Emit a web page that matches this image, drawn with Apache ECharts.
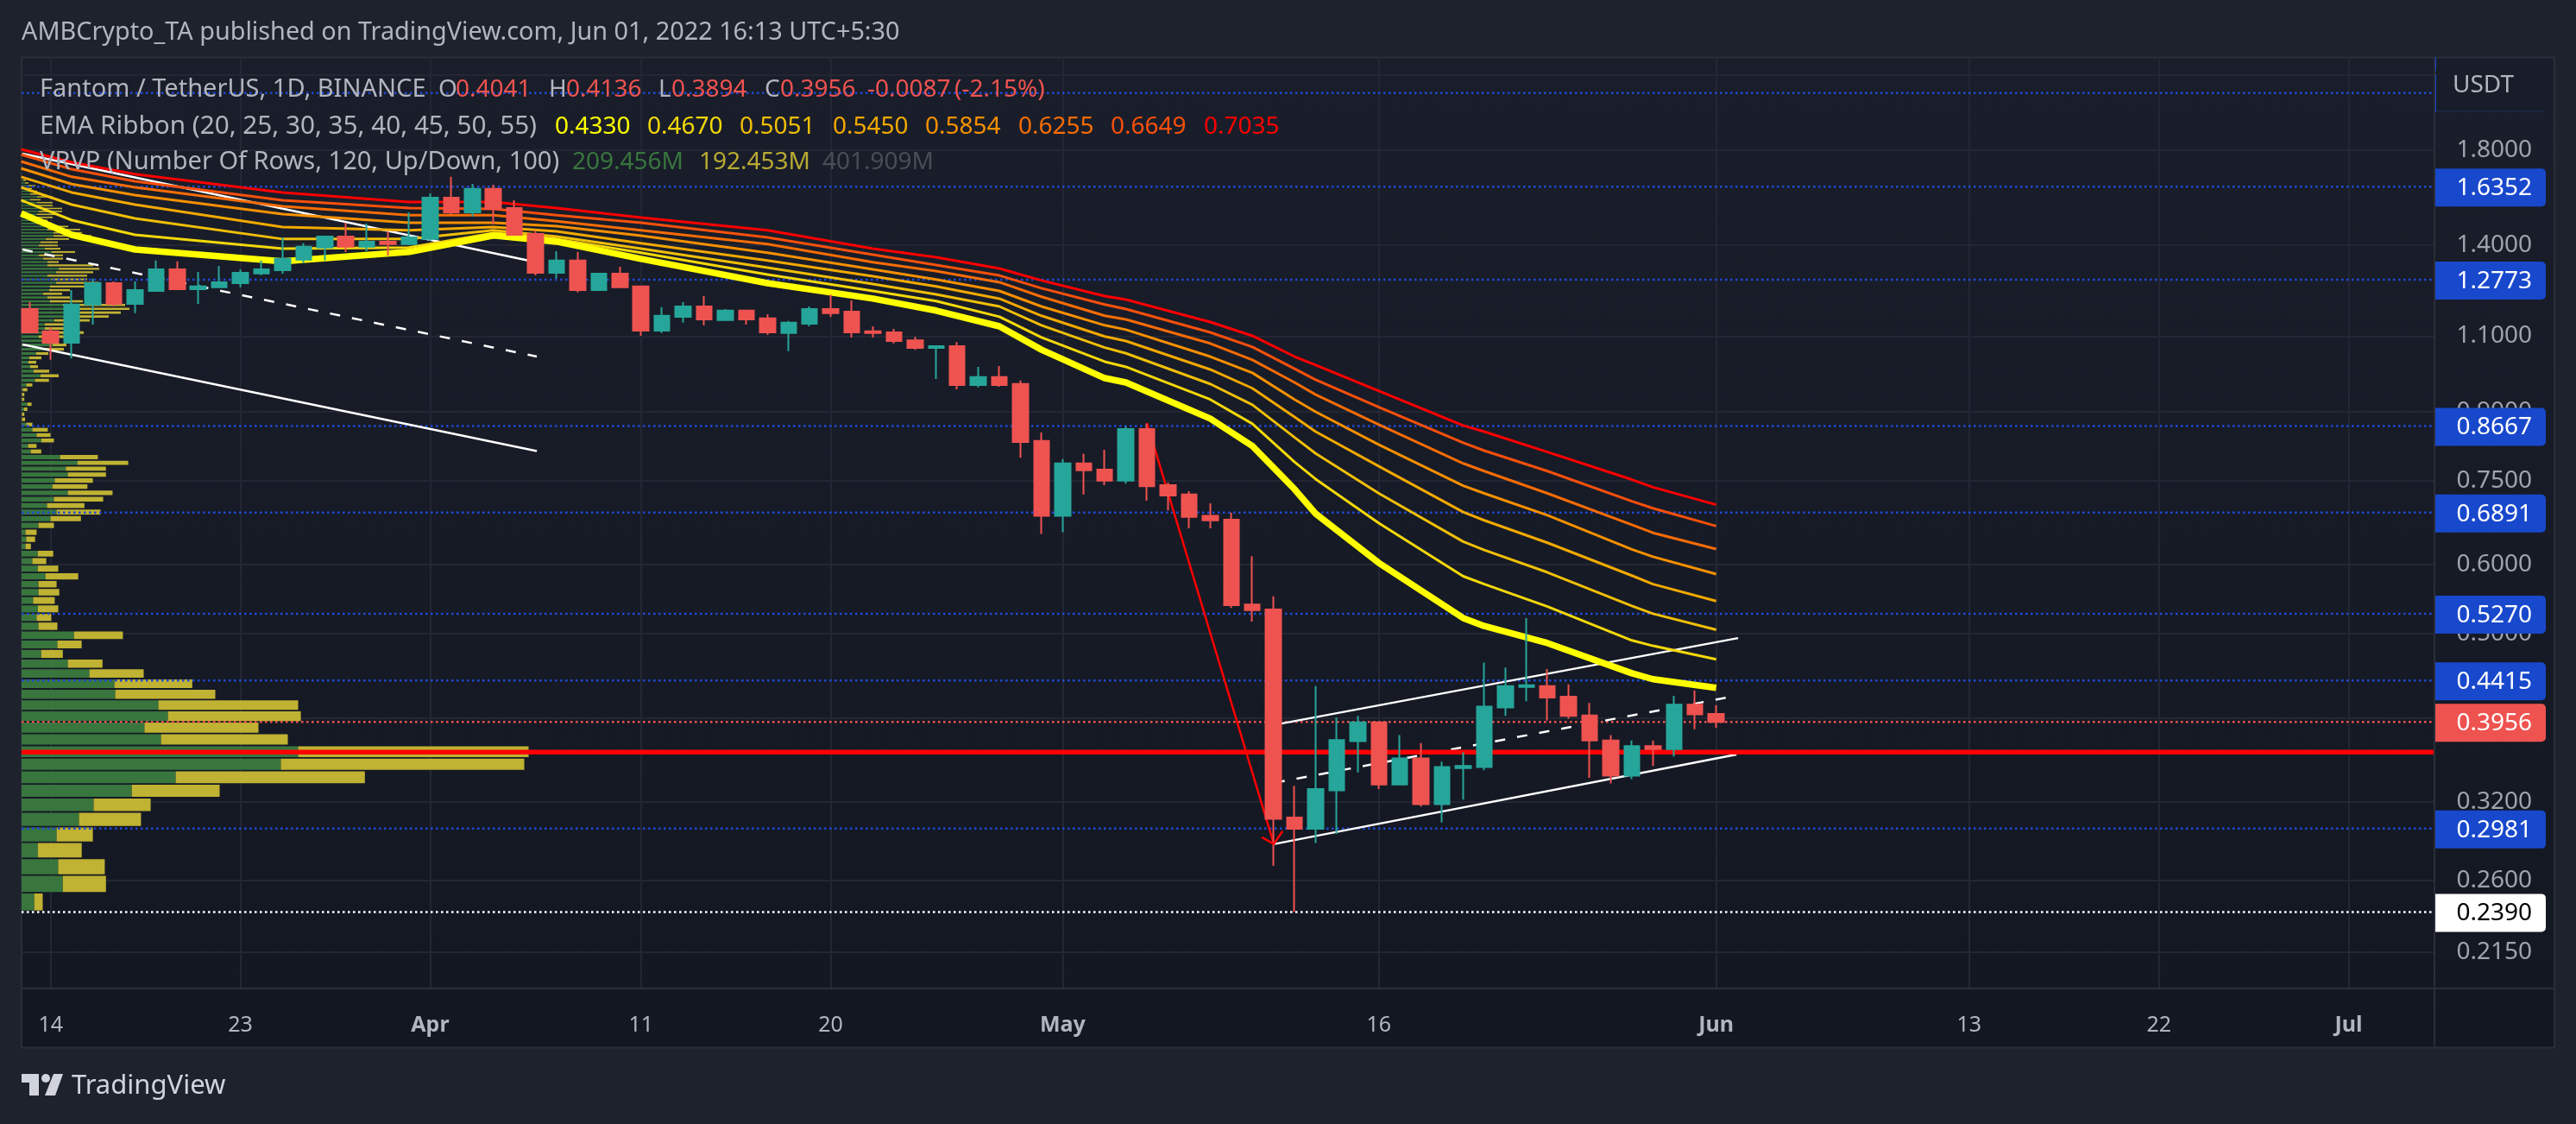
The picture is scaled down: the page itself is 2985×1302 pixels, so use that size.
<!DOCTYPE html>
<html lang="en">
<head>
<meta charset="UTF-8">
<title>Fantom / TetherUS, 1D</title>
<script src="https://cdn.jsdelivr.net/npm/echarts@6/dist/echarts.min.js"></script>
<style>
  html, body { margin: 0; padding: 0; background: #1e222d; }
  #main { width: 2985px; height: 1302px; }
</style>
</head>
<body>
<div id="main"></div>
<script>
// days are counted from 14 Mar 2022
const firstDay = -1;
const opens = [1.182,1.114,1.081,1.196,1.266,1.198,1.240,1.313,1.246,1.252,1.266,1.299,1.310,1.347,1.391,1.432,1.394,1.413,1.404,1.423,1.588,1.527,1.625,1.545,1.442,1.301,1.344,1.243,1.298,1.255,1.116,1.158,1.190,1.148,1.177,1.153,1.109,1.137,1.182,1.174,1.114,1.111,1.088,1.066,1.071,.966,.987,.969,.833,.683,.785,.772,.750,.860,.741,.723,.683,.676,.540,.533,.307,.298,.330,.376,.395,.335,.359,.318,.350,.351,.411,.434,.435,.423,.4025,.3765,.343,.371,.368,.414,.4041];
const closes = [1.111,1.081,1.196,1.266,1.198,1.243,1.313,1.246,1.255,1.269,1.301,1.313,1.350,1.394,1.432,1.394,1.413,1.404,1.429,1.588,1.527,1.625,1.541,1.439,1.301,1.344,1.243,1.298,1.252,1.116,1.161,1.190,1.150,1.177,1.150,1.111,1.140,1.182,1.169,1.111,1.109,1.086,1.066,1.071,.966,.987,.966,.831,.683,.785,.771,.750,.860,.739,.721,.681,.675,.539,.532,.306,.298,.331,.377,.395,.335,.359,.318,.351,.352,.412,.435,.436,.422,.402,.3765,.343,.371,.368,.414,.4035,.3956];
const highs = [1.204,1.125,1.243,1.281,1.272,1.272,1.344,1.341,1.304,1.325,1.313,1.344,1.429,1.407,1.432,1.486,1.482,1.452,1.527,1.606,1.678,1.647,1.643,1.577,1.456,1.378,1.375,1.301,1.322,1.258,1.188,1.204,1.223,1.182,1.179,1.166,1.145,1.190,1.228,1.209,1.129,1.121,1.098,1.071,1.083,1.014,1.016,.978,.852,.794,.805,.814,.866,.872,.746,.729,.706,.689,.614,.552,.334,.435,.400,.402,.395,.382,.374,.356,.365,.463,.457,.521,.455,.437,.416,.382,.3765,.3765,.424,.430,.4136];
const lows = [1.111,1.033,1.037,1.134,1.190,1.169,1.240,1.243,1.198,1.250,1.252,1.293,1.298,1.335,1.344,1.375,1.378,1.362,1.400,1.416,1.520,1.510,1.479,1.436,1.292,1.281,1.235,1.240,1.249,1.101,1.109,1.140,1.132,1.148,1.134,1.104,1.057,1.129,1.158,1.096,1.096,1.079,1.061,.982,.955,.960,.962,.797,.651,.654,.723,.741,.744,.711,.693,.661,.661,.535,.516,.270,.239,.287,.294,.346,.331,.335,.316,.303,.322,.348,.402,.418,.397,.399,.341,.336,.340,.352,.361,.388,.3894];

// EMA ribbon, read at these days
const emaDays = [-1.4,1,4,11,17,21,24,28,34,39,42,45,47,50,51,55,57,59,60,63,67,68,71,75,76,79];
const ema20 = [1.523,1.439,1.384,1.341,1.375,1.436,1.413,1.350,1.266,1.215,1.177,1.129,1.061,.984,.973,.884,.822,.733,.687,.603,.521,.510,.4875,.450,.443,.4330];
const ema25 = [1.577,1.496,1.439,1.387,1.391,1.446,1.423,1.372,1.295,1.240,1.207,1.158,1.096,1.028,1.014,.930,.872,.788,.753,.670,.582,.570,.537,.491,.484,.4670];
const ema30 = [1.632,1.559,1.503,1.423,1.423,1.456,1.432,1.387,1.319,1.263,1.229,1.190,1.132,1.067,1.051,.969,.917,.841,.806,.725,.638,.624,.588,.538,.527,.5051];
const ema35 = [1.678,1.610,1.559,1.469,1.456,1.469,1.452,1.407,1.344,1.289,1.255,1.215,1.161,1.099,1.086,1.007,.958,.888,.854,.779,.690,.675,.636,.583,.570,.5450];
const ema40 = [1.716,1.646,1.599,1.520,1.486,1.486,1.472,1.436,1.372,1.313,1.278,1.240,1.190,1.132,1.119,1.042,.998,.930,.900,.825,.740,.725,.684,.625,.613,.5854];
const ema45 = [1.748,1.678,1.632,1.552,1.516,1.516,1.492,1.456,1.404,1.338,1.307,1.269,1.221,1.161,1.150,1.079,1.033,.973,.942,.870,.785,.769,.725,.667,.653,.6255];
const ema50 = [1.780,1.712,1.658,1.577,1.545,1.541,1.516,1.486,1.429,1.365,1.328,1.292,1.249,1.196,1.182,1.111,1.069,1.009,.980,.911,.829,.812,.769,.710,.697,.6649];
const ema55 = [1.805,1.744,1.690,1.610,1.570,1.570,1.545,1.506,1.456,1.387,1.356,1.316,1.275,1.223,1.212,1.142,1.101,1.042,1.019,.951,.868,.854,.809,.752,.737,.7035];
const emaLines = [ema55, ema50, ema45, ema40, ema35, ema30, ema25, ema20];
const emaColors = ['#ff0000','#f8500c','#f76c06','#f79000','#f2a900','#f0bf08','#f4d80a','#ffff00'];

// VRVP rows, equal price height, from the bottom up (relative volume)
const rowLow = 0.239, rowStep = 0.01199;
const volUp = [14.7,47.8,42.4,18.8,40.6,66.5,83.5,127.7,178.6,300.4,320.5,161.6,142.4,169.6,158.5,108.5,107.6,78.6,53.6,22.8,41.5,60.7,19.6,17.4,18.8,13.4,19.6,19.6,27.7,18.8,12.5,18.8,4.5,5.4,4.5,19.6,33.5,40.6,29.5,37.5,53.6,35.7,38.4,53.6,51.3,64.7,44.6,10.7,7.6,22.8,17.4,12.5,5.4,.5,.5,2.7,6.7,.5,.5,1.3,5.4,15.6,22,14,10,8,9,17,28,36,25,20,32,27,27,38,49,58,65,48,33,30,25,32,33,40,35,30,40,43,30,30,25,20,35,27,20,22,28,37,37,30,30,18,17,18,18,20,23,18,18,10,18,10,8,7,8,4,2,2];
const volDown = [9.8,50,54,50.9,42,71.9,66.1,101.8,219.2,282.1,267,146.9,132.1,154,162,116,90.2,62.9,40.2,25,28.1,56.7,21.9,17,23.7,25,24.1,21,37.9,23.7,16.1,17.9,6.3,10.3,12.9,17.9,35.3,50.9,43.3,57.1,51.8,40.6,44.2,44.2,46.4,58.9,43.8,12.1,9.8,14.7,16.1,17.9,7.1,3.6,2.7,4,4.9,2.7,2.7,5.4,7.1,16.1,21,18,9,9,14,14,21,16,17,29,40,22,22,41,52,57,60,72,38,26,22,24,46,50,41,46,43,47,53,13,23,28,27,18,22,20,27,44,33,38,24,16,13,18,25,27,24,18,18,12,18,10,10,5,8,4,3,2];

// drawings, [day, price]
const wedgeTop = [[-1.34,1.784],[22.65,1.344]];
const wedgeMid = [[-1.34,1.384],[23.06,1.042]];
const wedgeLow = [[-1.34,1.076],[23.06,.811]];
const channelTop = [[58.05,.3925],[80.04,.494]];
const channelMid = [[58.05,.3366],[79.55,.4221]];
const channelLow = [[58.05,.2862],[79.96,.3628]];
const arrowLine = [[52,.874],[58.02,.2862]];
const arrowHead = [[57.44,.2914],[58.02,.2862],[58.43,.2961]];
const supportLevel = 0.3651;

const blueLevels = [2.096,1.6352,1.2773,.8667,.6891,.5270,.4415,.2981];
const lastPrice = 0.3956, lowPrice = 0.2390;
const blueTags = [1.6352,1.2773,.8667,.6891,.5270,.4415,.2981];

// axis ticks
const dayMin = -1.38, dayMax = 113.07;
const priceTicks = [1.8,1.4,1.1,.9,.75,.6,.5,.4,.32,.26,.215];
const priceGrid = [2.2,1.8,1.4,1.1,.9,.75,.6,.5,.4,.32,.26,.215];
const dayTicks = [0,9,18,28,37,48,63,79,91,100,109];
const dayLabels = ['14','23','{b|Apr}','11','20','{b|May}','16','{b|Jun}','13','22','{b|Jul}'];

const font = 'Noto Sans';
const grey = '#b2b5be';
const gridColor = '#242733';

const candles = opens.map((o, i) => [firstDay + i, o, closes[i], lows[i], highs[i]]);
const rows = volUp.map((u, i) => [u + volDown[i], rowLow + rowStep * i, rowLow + rowStep * (i + 1), u, volDown[i]]);

function renderRow(params, api) {
  const low = api.coord([0, api.value(1)]);
  const top = api.coord([0, api.value(2)]);
  const up = api.coord([api.value(3), 0.3]);
  const all = api.coord([api.value(0), 0.3]);
  const h = Math.max(1.5, low[1] - top[1] - 1.8);
  return { type: 'group', children: [
    { type: 'rect', shape: { x: low[0], y: top[1], width: up[0] - low[0], height: h }, style: { fill: '#38763e' } },
    { type: 'rect', shape: { x: up[0], y: top[1], width: all[0] - up[0], height: h }, style: { fill: '#c0b232' } }
  ] };
}

function renderTag(params, api) {
  const y = api.coord([0, api.value(0)])[1];
  const left = params.coordSys.x + params.coordSys.width;
  const fill = api.value(1) === 0 ? '#1848cc' : api.value(1) === 1 ? '#ef5350' : '#ffffff';
  return { type: 'group', children: [
    { type: 'rect', shape: { x: left - 1, y: y - 21, width: 130, height: 44, r: [0, 5, 5, 0] }, style: { fill: fill } },
    { type: 'text', x: left + 113, y: y + 2, style: {
      text: api.value(0).toFixed(4), fill: api.value(1) === 2 ? '#000000' : '#ffffff',
      font: '28px "' + font + '"', align: 'right', verticalAlign: 'middle' } }
  ] };
}

const tags = blueTags.map(v => [v, 0]).concat([[lastPrice, 1], [lowPrice, 2]]);

function line(points, color, width, type, z) {
  return { type: 'line', data: points, showSymbol: false, silent: true, animation: false, z: z,
    xAxisIndex: 0, yAxisIndex: 0, lineStyle: { color: color, width: width, type: type || 'solid' } };
}
// markLine lands off the value on a log axis, so levels are plain two point lines
function level(value, color, width, type, z) {
  return line([[dayMin, value], [dayMax, value]], color, width, type, z);
}
function text(x, y, str, color, size, weight) {
  return { type: 'text', z: 100, x: x, y: y, silent: true, style: {
    text: str, fill: color, font: (weight || 'normal') + ' ' + (size || 28) + 'px "' + font + '"',
    align: 'left', verticalAlign: 'middle' } };
}

const series = [
  { type: 'custom', renderItem: renderRow, data: rows, xAxisIndex: 1, yAxisIndex: 0, z: 1, silent: true, animation: false,
    encode: { x: 0, y: 1 } }
];
blueLevels.forEach(v => series.push(level(v, '#1f49d8', 2.5, [2.5, 3.5], 2)));
series.push(
  level(lastPrice, '#ef5350', 2.5, [2.5, 3.5], 2),
  level(lowPrice, '#ffffff', 2.5, [2.5, 3.5], 2),
  line(wedgeTop, '#ffffff', 2.5, null, 3),
  line(wedgeMid, '#ffffff', 2.5, [12, 14], 3),
  line(wedgeLow, '#ffffff', 2.5, null, 3),
  line(channelTop, '#ffffff', 2.5, null, 3),
  line(channelMid, '#ffffff', 2.5, [12, 14], 3),
  line(channelLow, '#ffffff', 2.5, null, 3),
  level(supportLevel, '#ff0000', 5.5, 'solid', 4),
  line(arrowLine, '#ff0000', 2.5, null, 4),
  line(arrowHead, '#ff0000', 2.5, null, 7)
);
emaLines.forEach((vals, i) => {
  series.push(line(vals.map((v, k) => [emaDays[k], v]), emaColors[i], i === 7 ? 7.5 : 3, null, 5));
});
series.push({ type: 'candlestick', data: candles, xAxisIndex: 0, yAxisIndex: 0, z: 6, silent: true, animation: false,
  barWidth: 18, encode: { x: 0, y: [1, 2, 3, 4] },
  itemStyle: { color: '#26a69a', color0: '#ef5350', borderColor: '#26a69a', borderColor0: '#ef5350', borderWidth: 2 } });
series.push({ type: 'custom', renderItem: renderTag, data: tags, xAxisIndex: 0, yAxisIndex: 0, z: 20,
  silent: true, animation: false, encode: { y: 0 }, clip: false });

const paneGradient = new echarts.graphic.LinearGradient(0, 0, 0, 1, [
  { offset: 0, color: '#1a1e2a' }, { offset: 1, color: '#131722' }]);

const option = {
  animation: false,
  backgroundColor: '#1e222d',
  grid: { left: 25, top: 66.5, right: 164, bottom: 157.6, containLabel: false },
  xAxis: [
    { type: 'value', min: dayMin, max: dayMax, position: 'bottom', axisLine: { show: false }, axisTick: { show: false, customValues: dayTicks },
      splitLine: { show: true, lineStyle: { color: gridColor, width: 2 } },
      axisLabel: { customValues: dayTicks, margin: 31, color: grey, fontFamily: font, fontSize: 25,
        formatter: v => dayLabels[dayTicks.indexOf(v)] || '',
        rich: { b: { fontFamily: font, fontSize: 25, fontWeight: 'bold', color: grey } } } },
    { type: 'value', min: 0, max: 2796, show: false, splitLine: { show: false } }
  ],
  yAxis: { type: 'log', min: 0.1954, max: 2.303, position: 'right', axisLine: { show: false },
    axisTick: { show: false, customValues: priceGrid },
    splitLine: { show: true, lineStyle: { color: gridColor, width: 2 } },
    axisLabel: { customValues: priceTicks, align: 'right', margin: 113, color: '#a0a3ad', fontFamily: font, fontSize: 28,
      formatter: v => v.toFixed(4) } },
  graphic: [
    { type: 'rect', z: -10, shape: { x: 25, y: 66.5, width: 2935, height: 1147 }, style: { fill: paneGradient, stroke: '#2a2e39', lineWidth: 2 } },
    { type: 'rect', z: 30, silent: true, shape: { x: 2820, y: 66.5, width: 3, height: 16 }, style: { fill: '#1848cc' } },
    { type: 'rect', z: 30, silent: true, shape: { x: 2820, y: 86, width: 3, height: 44 }, style: { fill: '#1848cc' } },
    { type: 'rect', z: 30, silent: true, shape: { x: 2823, y: 68, width: 135, height: 60 }, style: { fill: '#191d29' } },
    { type: 'rect', z: 30, silent: true, shape: { x: 2823, y: 128, width: 125, height: 1.5 }, style: { fill: '#1c2846' } },
    { type: 'rect', z: 30, silent: true, shape: { x: 24, y: 1144, width: 2936, height: 2 }, style: { fill: '#2a2e39' } },
    { type: 'rect', z: 30, silent: true, shape: { x: 2820, y: 67, width: 2, height: 1146 }, style: { fill: '#2a2e39' } },
    text(2842, 99, 'USDT', grey),
    text(25, 38, 'AMBCrypto_TA published on TradingView.com, Jun 01, 2022 16:13 UTC+5:30', '#b2b5be', 28.8),
    text(46, 104, 'Fantom / TetherUS, 1D, BINANCE', grey, 29),
    text(508, 104, 'O', grey), text(528, 104, '0.4041', '#ef5350'),
    text(636, 104, 'H', grey), text(656, 104, '0.4136', '#ef5350'),
    text(763, 104, 'L', grey), text(778, 104, '0.3894', '#ef5350'),
    text(886, 104, 'C', grey), text(904, 104, '0.3956', '#ef5350'),
    text(1005, 104, '-0.0087', '#ef5350'), text(1106, 104, '(-2.15%)', '#ef5350'),
    text(46, 147, 'EMA Ribbon (20, 25, 30, 35, 40, 45, 50, 55)', grey, 29.7),
    text(643, 147, '0.4330', '#ffff00'), text(750, 147, '0.4670', '#f4d80a'),
    text(857, 147, '0.5051', '#f0bf08'), text(965, 147, '0.5450', '#f2a900'),
    text(1072, 147, '0.5854', '#f79000'), text(1180, 147, '0.6255', '#f76c06'),
    text(1287, 147, '0.6649', '#f8500c'), text(1395, 147, '0.7035', '#ff0000'),
    text(46, 188, 'VRVP (Number Of Rows, 120, Up/Down, 100)', grey, 29),
    text(663, 188, '209.456M', '#38763e'), text(810, 188, '192.453M', '#b8aa33'), text(953, 188, '401.909M', '#4a4d55'),
    { type: 'rect', z: 100, shape: { x: 25, y: 1244, width: 20, height: 10 }, style: { fill: '#d1d4dc' } },
    { type: 'rect', z: 100, shape: { x: 34, y: 1244, width: 11, height: 25 }, style: { fill: '#d1d4dc' } },
    { type: 'circle', z: 100, shape: { cx: 53, cy: 1249, r: 5 }, style: { fill: '#d1d4dc' } },
    { type: 'polygon', z: 100, shape: { points: [[62, 1244], [73, 1244], [64, 1269], [52, 1269]] }, style: { fill: '#d1d4dc' } },
    text(83, 1258, 'TradingView', '#d1d4dc', 31)
  ],
  series: series
};

const myChart = echarts.init(document.getElementById('main'), null, { width: 2985, height: 1302 });
myChart.setOption(option);
</script>
</body>
</html>
